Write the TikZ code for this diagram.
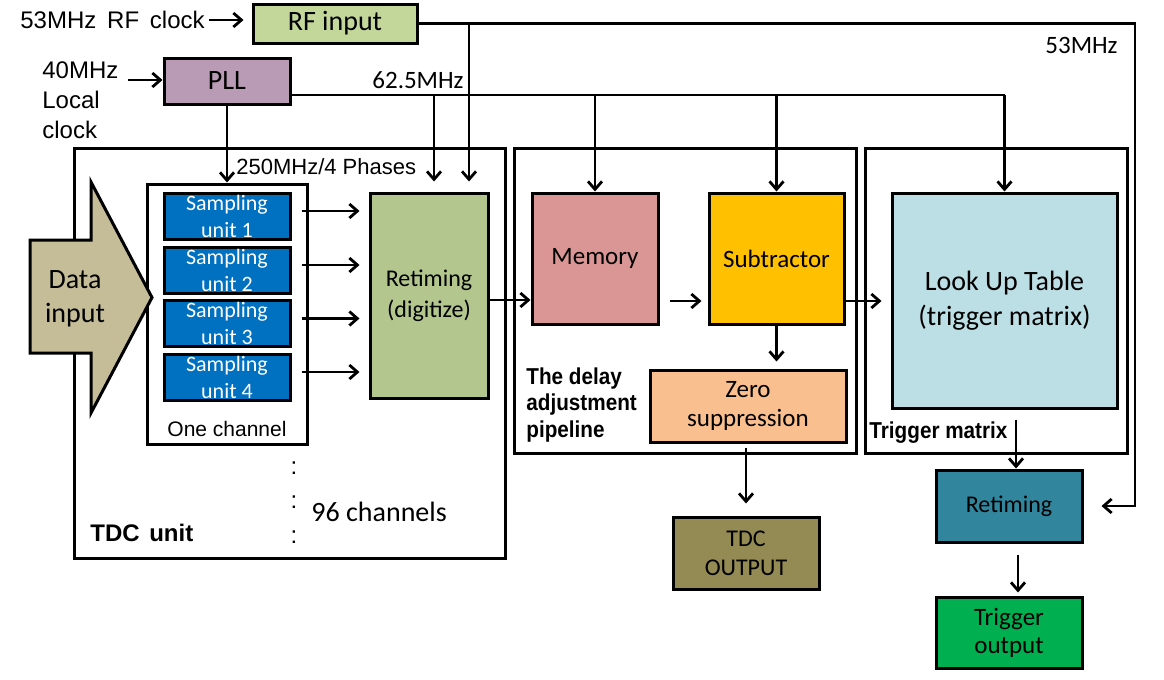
\documentclass[tikz,border=0pt]{standalone}
\usepackage{fontspec}
\setmainfont{Carlito}
\newfontfamily\arial{Liberation Sans}
\newfontfamily\arialcond[FakeStretch=0.9]{Liberation Sans}
\usetikzlibrary{arrows.meta,calc}
\definecolor{crf}{RGB}{196,215,155}
\definecolor{cpll}{RGB}{186,155,181}
\definecolor{csu}{RGB}{0,112,192}
\definecolor{cretd}{RGB}{179,198,141}
\definecolor{cmem}{RGB}{217,150,148}
\definecolor{csub}{RGB}{255,192,0}
\definecolor{czero}{RGB}{250,191,143}
\definecolor{clut}{RGB}{188,223,229}
\definecolor{crett}{RGB}{49,133,156}
\definecolor{ctdco}{RGB}{148,138,84}
\definecolor{ctrgo}{RGB}{0,176,80}
\definecolor{cdata}{RGB}{196,189,151}
\begin{document}
\begin{tikzpicture}[x=0.5pt,y=-0.5pt,
  box/.style={draw=black,line width=1.5pt,inner sep=0pt,align=center},
  frame/.style={draw=black,line width=1.5pt,inner sep=0pt},
  sz/.style 2 args={minimum width=#1*0.5pt,minimum height=#2*0.5pt},
  cal/.style 2 args={font=\fontsize{#1}{#2}\selectfont},
  ari/.style 2 args={font=\arial\fontsize{#1}{#2}\selectfont},
  lbl/.style={inner sep=0pt},
  ln/.style={line width=1.4pt},
  arr/.style={line width=1.4pt,-{Straight Barb[length=4pt,width=7pt]}},
]
\useasboundingbox (0,0) rectangle (1164,680);

% containers
\node[frame,sz={431}{410}] (tdcbox) at (289.5,353) {};
\node[frame,sz={342}{305}] (pipebox) at (685,300.5) {};
\node[frame,sz={262}{305}] (trigbox) at (996,300.5) {};
\node[frame,sz={160}{260}] (chanbox) at (227,314) {};

% top inputs
\node[box,fill=crf,sz={164}{39},cal={14}{17}] (rfin) at (335,23.5) {RF input};
\node[box,fill=cpll,sz={126}{46},cal={14}{17}] (pll) at (227,81) {PLL};
\node[lbl,ari={12}{14},anchor=west] (rfclk) at (20,20) {53MHz\hspace{0.45em}RF\hspace{0.45em}clock};
\node[lbl,ari={12}{15},anchor=west,align=left] (lclk) at (42,100) {40MHz\\Local\\clock};
\coordinate (lclkout) at (128,80);

% TDC unit content
\foreach \i/\y in {1/216,2/270,3/323.5,4/377}{
  \node[box,fill=csu,sz={126}{46},text=white,cal={11}{13.5}] (su\i) at (227,\y) {Sampling\\unit \i};
}
\node[box,fill=cretd,sz={118}{205},cal={12}{15.5}] (retd) at (429,295.5) {Retiming\\(digitize)};
\node[lbl,ari={10.5}{12}] (onech) at (227,429) {One channel};
\draw[line width=1.5pt,fill=cdata,line join=miter] (30,240) -- (91,240) -- (91,182) -- (152,297.5) -- (91,413) -- (91,353) -- (30,353) -- cycle;
\node[lbl,cal={14}{17},align=center] (datain) at (75,299) {Data\\input};
\node[lbl,ari={12}{14}] (dot1) at (294,468) {:};
\node[lbl,ari={12}{14}] (dot2) at (294,502) {:};
\node[lbl,ari={12}{14}] (dot3) at (294,537) {:};
\node[lbl,cal={14}{17},anchor=west] (nch) at (311,512) {96 channels};
\node[lbl,font=\arial\bfseries\fontsize{12}{14}\selectfont,anchor=west] (tdclbl) at (90,533) {TDC\hspace{0.4em}unit};
\node[lbl,ari={11}{13},anchor=west] (phases) at (236,167) {250MHz/4 Phases};
\node[lbl,cal={12.5}{15},anchor=west] (f625) at (372,80) {62.5MHz};
\node[lbl,cal={12.5}{15},anchor=east] (f53) at (1118,45) {53MHz};

% pipeline
\node[box,fill=cmem,sz={126}{131},cal={12.5}{15}] (mem) at (595,258.5) {Memory};
\node[box,fill=csub,sz={135}{131},cal={12.5}{15}] (sub) at (776.5,258.5) {Subtractor};
\node[box,fill=czero,sz={196}{72},cal={12.5}{14.5}] (zero) at (748,406) {Zero\\suppression};
\node[lbl,font=\arialcond\bfseries\fontsize{11.5}{13.25}\selectfont,anchor=west,align=left] (pipelbl) at (526,405) {The delay\\adjustment\\pipeline};

% trigger
\node[box,fill=clut,sz={225}{215},cal={14}{17.5}] (lut) at (1004.5,300.5) {Look Up Table\\(trigger matrix)};
\node[lbl,font=\arialcond\bfseries\fontsize{11.5}{13.5}\selectfont,anchor=west] (triglbl) at (869,433) {Trigger matrix};

% outputs
\node[box,fill=ctdco,sz={146}{72},cal={12}{14.5}] (tdcout) at (746,553) {TDC\\OUTPUT};
\node[box,fill=crett,sz={146}{72},cal={12}{14.5}] (rett) at (1009,506) {Retiming};
\node[box,fill=ctrgo,sz={146}{71},cal={12.5}{14}] (trigout) at (1009,632.5) {Trigger\\output};

% connectors: inputs
\draw[arr,shorten <=2pt,shorten >=4pt] (rfclk.east) -- (rfclk.east -| rfin.west);
\draw[arr] (lclkout) -- (lclkout -| pll.west);
\draw[arr] (pll.south) -- (chanbox.north);

% PLL bus
\coordinate (pllo) at (290,95);
\draw[ln] (pllo) -- (pllo -| lut.north);
\draw[arr,shorten >=5pt] (434,95) -- (retd.north -| 434,0);
\draw[arr] (pllo -| mem.north) -- (mem.north);
\draw[arr] (pllo -| sub.north) -- (sub.north);
\draw[arr] (pllo -| lut.north) -- (lut.north);

% RF bus
\coordinate (rfcorner) at (1135,24);
\draw[arr,shorten >=9pt] (rfin.east) -- (rfin.east -| rfcorner) -- (rfcorner |- rett.east) -- (rett.east);
\draw[arr,shorten >=5pt] (469,24) -- (retd.north -| 469,0);

% sampling to retiming
\foreach \i in {1,2,3,4}{
  \coordinate (s\i) at ($(su\i.east)+(10,-5)$);
  \draw[arr,shorten >=4.5pt] (s\i) -- (s\i -| retd.west);
}

% pipeline flow
\draw[arr] (retd.east |- 0,300) -- (mem.west |- 0,300);
\draw[arr,shorten <=5pt,shorten >=3pt] (mem.east |- 0,301) -- (sub.west |- 0,301);
\draw[arr,shorten >=4.5pt] (sub.east |- 0,301) -- (lut.west |- 0,301);
\draw[arr,shorten >=3.5pt] (sub.south) -- (sub.south |- zero.north);
\draw[arr,shorten <=2pt,shorten >=6pt] (tdcout.north |- zero.south) -- (tdcout.north);
\draw[arr,shorten <=5pt] (lut.south -| 1016,0) -- (rett.north -| 1016,0);
\draw[arr,shorten <=5.5pt,shorten >=1.5pt] (rett.south -| 1018,0) -- (trigout.north -| 1018,0);
\end{tikzpicture}
\end{document}
